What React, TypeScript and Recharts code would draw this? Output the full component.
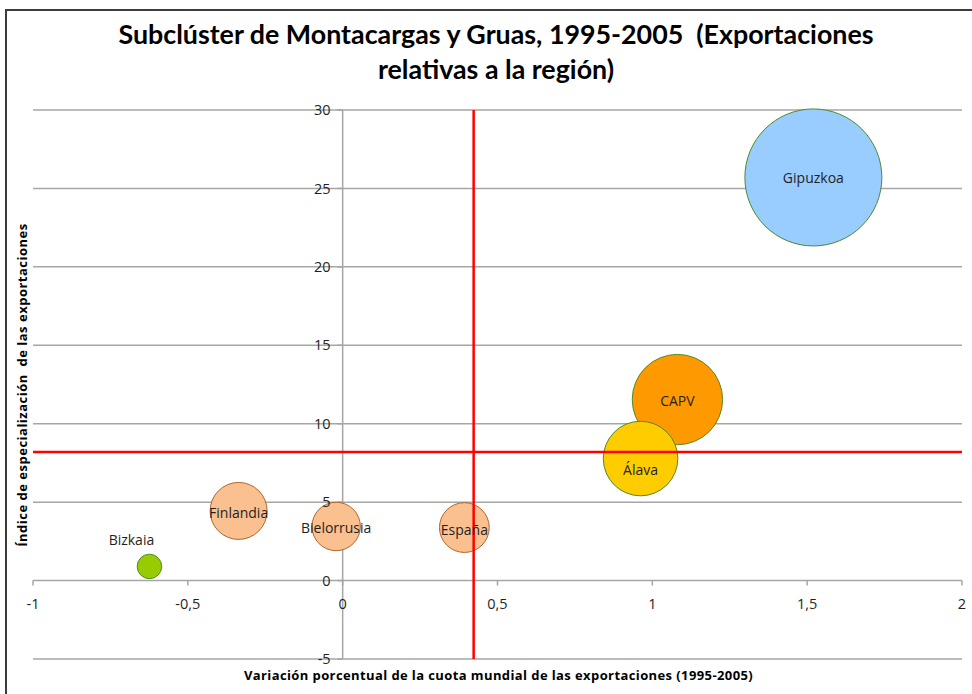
import React from "react";
import {
  Label,
  LabelList,
  ReferenceDot,
  ReferenceLine,
  Scatter,
  ScatterChart,
  XAxis,
  YAxis,
  ZAxis
} from "recharts";

// bubble data
const names = ["Gipuzkoa", "CAPV", "Álava", "Finlandia", "Bielorrusia", "España", "Bizkaia"];
const xValues = [1.52, 1.081, 0.962, -0.336, -0.021, 0.393, -0.624];
const yValues = [25.7, 11.54, 7.78, 4.44, 3.45, 3.38, 0.9];
const sizes = [100, 43.5, 29.6, 17.3, 12.5, 13.2, 3.2];

const xTicks = [-1, -0.5, 0, 0.5, 1, 1.5, 2];
const yTicks = [30, 25, 20, 15, 10, 5, 0, -5];

// red reference lines (averages)
const refX = 0.423;
const refY = 8.19;

const fills: Record<string, string> = {
  Gipuzkoa: "#99ccff",
  CAPV: "#ff9900",
  "Álava": "#ffcc00",
  Finlandia: "#fac090",
  Bielorrusia: "#fac090",
  "España": "#fac090",
  Bizkaia: "#99cc00"
};
const strokes: Record<string, string> = {
  Gipuzkoa: "#4f8a2b",
  CAPV: "#4f8a2b",
  "Álava": "#4f8a2b",
  Finlandia: "#b0652a",
  Bielorrusia: "#b0652a",
  "España": "#b0652a",
  Bizkaia: "#4f8a2b"
};
// label tweaks (Excel puts a few labels off-centre)
const labelAbove = new Set(["Bizkaia"]);
const labelShift: Record<string, number> = { "Álava": 11, Bielorrusia: 2, "España": 2, Finlandia: 2 };

const rows = names.map((name, i) => ({ name, x: xValues[i], y: yValues[i], z: sizes[i] }));

const TITLE_FONT = "Lato, 'Open Sans', sans-serif";
const FONT = "'Open Sans', Lato, sans-serif";
const GRID = "#a6a6a6";
const fmt = (v: number) => String(v).replace(".", ",");

function Bubble(props: any) {
  const { cx, cy, width, payload } = props;
  if (cx == null || cy == null) return null;
  return (
    <circle
      cx={cx}
      cy={cy}
      r={width / 2}
      fill={fills[payload.name]}
      stroke={strokes[payload.name]}
      strokeWidth={1}
    />
  );
}

function BubbleLabel(props: any) {
  const { x, y, width, height, value } = props;
  const cx = x + width / 2;
  const cy = y + height / 2;
  const above = labelAbove.has(value);
  return (
    <text
      x={above ? cx - 18 : cx}
      y={above ? y - 9 : cy + (labelShift[value] ?? 1)}
      dy={above ? 0 : "0.36em"}
      textAnchor="middle"
      fontFamily={FONT}
      fontSize={14}
      fill="#1f1f1f"
    >
      {value}
    </text>
  );
}

export default function App() {
  return (
    <div
      style={{
        position: "absolute",
        left: 0,
        top: 0,
        width: 972,
        height: 694,
        overflow: "hidden",
        background: "#fff",
        fontFamily: FONT
      }}
    >
      <div
        style={{
          position: "absolute",
          left: 5,
          top: 9,
          width: 1000,
          height: 720,
          borderLeft: "2px solid #3c3c3c",
          borderTop: "2px solid #3c3c3c"
        }}
      />
      <div
        style={{
          position: "absolute",
          left: 0,
          top: 17,
          width: 992,
          textAlign: "center",
          fontFamily: TITLE_FONT,
          fontWeight: 700,
          fontSize: 26.8,
          lineHeight: "35px",
          color: "#000"
        }}
      >
        Subclúster de Montacargas y Gruas, 1995-2005&nbsp;&nbsp;(Exportaciones
        <br />
        relativas a la región)
      </div>
      <div
        style={{
          position: "absolute",
          left: 0,
          top: 668,
          width: 997,
          textAlign: "center",
          fontWeight: 700,
          fontSize: 13,
          lineHeight: "14px",
          letterSpacing: 0.4,
          color: "#000"
        }}
      >
        Variación porcentual de la cuota mundial de las exportaciones (1995-2005)
      </div>
      <div
        style={{
          position: "absolute",
          left: 22,
          top: 385,
          transform: "translate(-50%, -50%) rotate(-90deg)",
          whiteSpace: "pre",
          fontWeight: 700,
          fontSize: 13,
          letterSpacing: 0.5,
          color: "#000"
        }}
      >
        {"Índice de especialización  de las exportaciones"}
      </div>
      <div style={{ position: "absolute", left: 0, top: 0 }}>
        <ScatterChart width={972} height={694} margin={{ top: 110, right: 10, bottom: 35, left: 33 }}>
          <XAxis type="number" dataKey="x" domain={[-1, 2]} ticks={xTicks} hide />
          <YAxis type="number" dataKey="y" domain={[-5, 30]} ticks={yTicks} hide />
          <ZAxis type="number" dataKey="z" domain={[0, 100]} range={[0, Math.PI * 68.5 * 68.5]} />

          {yTicks.map((v) => (
            <ReferenceLine key={`g${v}`} y={v} stroke={GRID} strokeWidth={1.5} />
          ))}
          <ReferenceLine x={0} stroke={GRID} strokeWidth={1.5} />
          {xTicks.map((v) => (
            <ReferenceLine
              key={`xt${v}`}
              segment={[
                { x: v, y: 0 },
                { x: v, y: -0.32 }
              ]}
              stroke={GRID}
              strokeWidth={1.5}
            />
          ))}
          {yTicks.map((v) => (
            <ReferenceLine
              key={`yt${v}`}
              segment={[
                { x: -0.017, y: v },
                { x: 0, y: v }
              ]}
              stroke={GRID}
              strokeWidth={1.5}
            />
          ))}
          {xTicks.map((v) => (
            <ReferenceDot key={`xl${v}`} x={v} y={0} r={0} fill="none" stroke="none">
              <Label value={fmt(v)} position="bottom" offset={18} fontFamily={FONT} fontSize={14.5} fill="#1f1f1f" />
            </ReferenceDot>
          ))}
          {yTicks.map((v) => (
            <ReferenceDot key={`yl${v}`} x={0} y={v} r={0} fill="none" stroke="none">
              <Label value={fmt(v)} position="left" offset={12} fontFamily={FONT} fontSize={14.5} fill="#1f1f1f" />
            </ReferenceDot>
          ))}

          <Scatter data={rows} shape={<Bubble />} isAnimationActive={false}>
            <LabelList dataKey="name" content={<BubbleLabel />} />
          </Scatter>

          <ReferenceLine x={refX} stroke="#ff0000" strokeWidth={2.5} zIndex={700} />
          <ReferenceLine y={refY} stroke="#ff0000" strokeWidth={2.5} zIndex={700} />
        </ScatterChart>
      </div>
    </div>
  );
}
